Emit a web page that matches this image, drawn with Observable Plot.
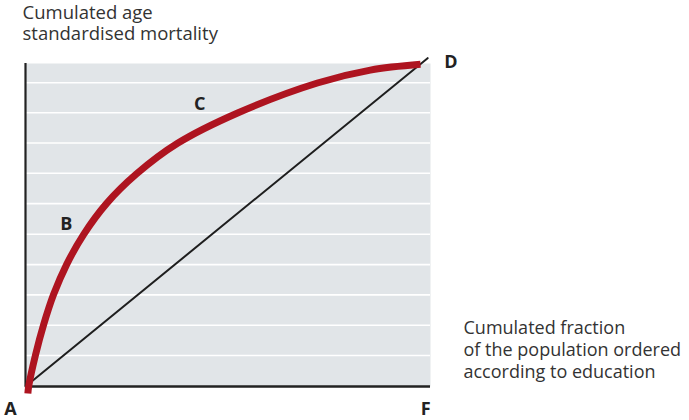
<!DOCTYPE html>
<html>
<head>
<meta charset="utf-8">
<script src="https://cdn.jsdelivr.net/npm/d3@7"></script>
<script src="https://cdn.jsdelivr.net/npm/@observablehq/plot@0.6"></script>
<style>
  html, body { margin: 0; padding: 0; background: #ffffff; }
  #chart svg { display: block; }
</style>
</head>
<body>
<div id="chart"></div>
<script>
// Concentration curve (cumulated fraction of population vs cumulated mortality)
const curveX = [0.006, 0.008, 0.025, 0.046, 0.071, 0.104, 0.147, 0.205, 0.281, 0.385, 0.537, 0.739, 0.873, 1.0];
const curveY = [-0.022, 0.0, 0.096, 0.192, 0.285, 0.378, 0.471, 0.567, 0.659, 0.754, 0.848, 0.941, 0.981, 0.999];
// Line of equality
const diagX = [0, 1.018];
const diagY = [0, 1.018];
// Horizontal gridlines
const gridY = [0.096, 0.190, 0.284, 0.378, 0.472, 0.567, 0.661, 0.755, 0.849, 0.942];
// Point labels
const pointNames = ["A", "B", "C", "D", "F"];
const pointX = [-0.038, 0.103, 0.441, 1.077, 1.013];
const pointY = [-0.070, 0.503, 0.875, 1.005, -0.070];
const yTitle = "Cumulated age\nstandardised mortality";
const xTitle = "Cumulated fraction\nof the population ordered\naccording to education";

const curve = curveX.map((x, i) => ({x, y: curveY[i]}));
const diag = diagX.map((x, i) => ({x, y: diagY[i]}));
const points = pointNames.map((name, i) => ({name, x: pointX[i], y: pointY[i]}));

const font = "'Open Sans', 'DejaVu Sans', sans-serif";

const chart = Plot.plot({
  width: 689,
  height: 420,
  marginLeft: 25,
  marginRight: 259,
  marginTop: 63,
  marginBottom: 34,
  style: {fontFamily: font, background: "#ffffff", overflow: "visible"},
  x: {domain: [0, 1.0253], axis: null},
  y: {domain: [0, 1.0015], axis: null},
  marks: [
    Plot.frame({fill: "#e1e5e8", stroke: null}),
    Plot.ruleY(gridY, {stroke: "#ffffff", strokeWidth: 1.6}),
    Plot.ruleY([0], {stroke: "#222222", strokeWidth: 2.5}),
    Plot.ruleX([0], {stroke: "#222222", strokeWidth: 2.2}),
    Plot.line(diag, {x: "x", y: "y", stroke: "#1e1e1e", strokeWidth: 2}),
    Plot.line(curve, {x: "x", y: "y", stroke: "#ae1420", strokeWidth: 7, curve: "catmull-rom", strokeLinecap: "butt"}),
    Plot.text(points, {x: "x", y: "y", text: "name", fontSize: 18, fontWeight: "bold", fill: "#222222", textAnchor: "middle", lineAnchor: "middle"}),
    Plot.text([yTitle], {frameAnchor: "top-left", textAnchor: "start", lineAnchor: "top", dx: -3, dy: -60, fontSize: 18.5, lineHeight: 1.16, fill: "#333333"}),
    Plot.text([xTitle], {frameAnchor: "bottom-right", textAnchor: "start", lineAnchor: "bottom", dx: 33, dy: -9, fontSize: 18, lineHeight: 1.2, fill: "#333333"})
  ]
});
document.getElementById("chart").appendChild(chart);
</script>
</body>
</html>
